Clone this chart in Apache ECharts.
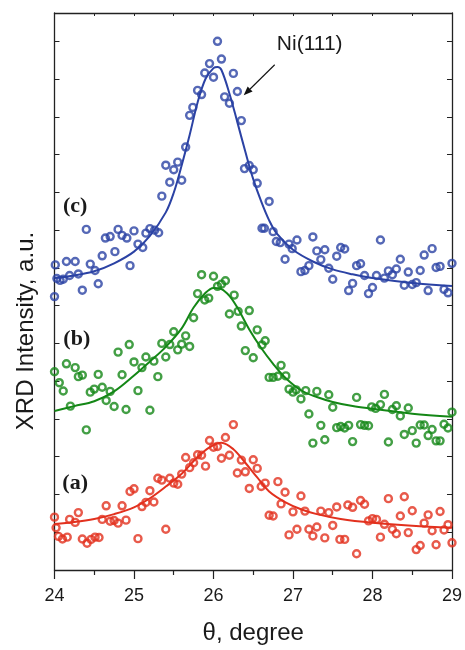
<!DOCTYPE html>
<html>
<head>
<meta charset="utf-8">
<script src="https://cdn.jsdelivr.net/npm/echarts@6/dist/echarts.min.js"></script>
<style>
html,body{margin:0;padding:0;background:#fff;}
#chart{width:465px;height:650px;}
</style>
</head>
<body>
<div id="chart"></div>
<script>
// ---- (c) blue data ----
const cTheta = [24.00,24.01,24.03,24.07,24.11,24.15,24.19,24.26,24.30,24.35,24.40,24.45,24.51,24.55,24.60,24.64,24.70,24.76,24.80,24.85,24.91,24.95,25.00,25.05,25.11,25.15,25.20,25.26,25.31,25.35,25.40,25.45,25.50,25.55,25.60,25.65,25.70,25.74,25.80,25.85,25.89,25.95,26.00,26.05,26.10,26.14,26.20,26.25,26.30,26.35,26.39,26.45,26.50,26.55,26.61,26.64,26.70,26.75,26.79,26.84,26.90,26.95,26.99,27.05,27.10,27.15,27.20,27.25,27.30,27.35,27.40,27.45,27.50,27.55,27.60,27.65,27.70,27.75,27.80,27.85,27.90,27.95,28.00,28.05,28.10,28.15,28.20,28.25,28.30,28.35,28.40,28.45,28.50,28.55,28.60,28.65,28.70,28.75,28.80,28.85,28.90,28.95,29.00];
const cInt = [7.24,8.08,7.72,7.67,7.70,8.17,7.80,8.17,7.84,7.41,9.02,8.10,7.93,7.58,8.32,8.79,8.83,8.43,9.02,8.86,8.79,8.06,8.98,8.63,8.54,8.92,9.04,9.00,8.93,9.90,10.72,10.27,10.60,10.80,10.32,11.20,12.04,12.25,12.70,12.59,13.16,13.41,13.05,14.00,13.53,12.53,12.36,13.15,12.67,11.90,10.63,10.71,10.60,10.24,9.05,9.05,9.76,8.96,8.70,8.67,8.23,8.63,8.51,8.74,7.90,7.93,8.06,8.82,8.45,8.22,8.48,7.99,7.70,8.31,8.54,8.50,7.40,7.59,8.06,8.11,7.80,7.32,7.48,7.80,8.74,7.73,7.92,7.82,7.97,8.23,7.54,7.89,7.56,7.61,7.93,8.34,7.40,8.51,8.01,8.04,7.43,7.34,8.12];
const cFitTheta = [24.0,24.25,24.5,24.75,25.0,25.2,25.4,25.5,25.6,25.7,25.8,25.9,26.0,26.05,26.1,26.2,26.3,26.4,26.5,26.6,26.7,26.8,27.0,27.25,27.5,27.75,28.0,28.5,29.0];
const cFitInt = [7.73,7.80,7.91,8.12,8.43,8.85,9.47,9.99,10.72,11.52,12.38,13.01,13.29,13.32,13.24,12.62,11.86,11.08,10.35,9.76,9.26,8.90,8.48,8.17,7.96,7.83,7.73,7.60,7.52];

// ---- (b) green data ----
const bTheta = [24.00,24.06,24.11,24.15,24.20,24.26,24.30,24.35,24.40,24.45,24.50,24.55,24.60,24.65,24.70,24.75,24.80,24.85,24.90,24.94,25.00,25.05,25.10,25.15,25.20,25.25,25.30,25.35,25.40,25.45,25.50,25.55,25.60,25.65,25.70,25.75,25.80,25.85,25.89,25.94,26.00,26.05,26.10,26.15,26.20,26.26,26.31,26.35,26.40,26.45,26.50,26.55,26.61,26.65,26.70,26.75,26.81,26.85,26.91,26.95,27.00,27.04,27.10,27.16,27.20,27.25,27.30,27.35,27.40,27.45,27.50,27.55,27.60,27.65,27.70,27.75,27.80,27.85,27.90,27.95,27.99,28.04,28.10,28.15,28.20,28.25,28.30,28.35,28.40,28.45,28.50,28.55,28.60,28.65,28.70,28.75,28.80,28.85,28.90,28.95,29.00];
const bInt = [5.25,4.96,4.74,5.46,4.34,5.36,5.12,5.16,3.71,4.71,4.79,5.18,4.84,4.49,4.73,4.33,5.77,5.17,4.25,5.97,5.51,4.75,5.36,5.64,4.23,5.53,5.12,6.00,5.64,5.97,6.31,5.83,5.98,6.20,5.92,6.68,7.32,7.82,7.15,7.20,7.78,7.51,7.57,7.66,6.78,7.28,6.85,6.46,5.81,6.87,5.62,6.36,5.96,6.07,5.10,5.10,5.13,5.42,5.14,4.79,4.71,4.77,4.53,4.75,4.13,3.36,4.73,3.83,3.45,4.64,4.31,3.77,3.80,3.76,3.83,3.40,4.57,3.85,3.83,3.82,4.32,4.28,4.38,4.65,3.39,4.25,4.35,4.08,3.59,4.29,3.69,3.36,3.84,3.84,3.56,3.72,3.42,3.42,3.86,3.76,4.18];
const bFitTheta = [24.0,24.25,24.5,24.75,25.0,25.2,25.4,25.6,25.75,25.9,26.0,26.1,26.2,26.3,26.45,26.6,26.75,26.9,27.1,27.3,27.5,27.75,28.0,28.5,29.0];
const bFitInt = [4.21,4.34,4.47,4.73,5.15,5.52,5.91,6.40,6.95,7.34,7.47,7.44,7.26,6.95,6.37,5.88,5.46,5.10,4.76,4.58,4.45,4.34,4.27,4.14,4.06];

// ---- (a) red data ----
const aTheta = [24.00,24.02,24.05,24.10,24.16,24.19,24.26,24.30,24.35,24.41,24.46,24.51,24.56,24.60,24.65,24.70,24.75,24.80,24.85,24.90,24.95,25.00,25.05,25.10,25.15,25.20,25.25,25.30,25.35,25.40,25.45,25.50,25.55,25.60,25.65,25.70,25.75,25.80,25.85,25.90,25.95,26.00,26.05,26.10,26.15,26.20,26.25,26.30,26.35,26.40,26.45,26.50,26.55,26.60,26.65,26.70,26.75,26.81,26.85,26.90,26.95,27.00,27.05,27.10,27.15,27.20,27.25,27.30,27.35,27.40,27.45,27.50,27.55,27.59,27.65,27.69,27.75,27.80,27.85,27.90,27.95,28.00,28.05,28.10,28.15,28.20,28.25,28.30,28.35,28.40,28.45,28.50,28.55,28.60,28.65,28.70,28.75,28.80,28.85,28.90,28.95,29.00];
const aInt = [1.40,1.12,0.89,0.82,0.87,1.34,1.26,1.52,0.82,0.71,0.81,0.87,0.86,1.34,1.70,1.29,1.31,1.24,1.70,1.32,2.08,2.15,0.83,1.68,1.79,2.10,1.80,2.43,2.38,1.08,2.43,2.30,2.27,2.54,2.98,2.71,2.84,3.05,3.04,2.75,3.43,3.25,3.27,2.96,3.51,3.04,3.85,2.57,2.91,2.60,2.16,2.92,2.69,2.21,2.30,1.45,1.43,2.34,1.75,2.06,0.93,1.54,1.08,1.96,1.56,1.08,0.90,1.14,1.56,0.85,1.52,1.18,1.67,0.81,0.81,1.72,1.66,0.43,1.84,1.74,1.30,1.36,1.34,0.87,1.21,1.89,1.08,0.96,1.43,1.94,0.99,1.57,0.54,0.65,1.24,1.46,1.04,0.67,1.55,1.06,1.20,0.72];
const aFitTheta = [24.0,24.25,24.5,24.75,25.0,25.2,25.4,25.6,25.8,25.95,26.1,26.25,26.4,26.55,26.7,26.9,27.1,27.3,27.6,28.0,28.5,29.0];
const aFitInt = [1.22,1.27,1.35,1.48,1.66,1.90,2.21,2.55,2.99,3.25,3.37,3.20,2.84,2.45,2.08,1.80,1.61,1.48,1.35,1.25,1.17,1.12];

// ---- axis / labels ----
const xTicks = [24, 25, 26, 27, 28, 29];
const curveLabels = [
  {text: '(c)', theta: 24.26, y: 9.63},
  {text: '(b)', theta: 24.28, y: 6.11},
  {text: '(a)', theta: 24.26, y: 2.30}
];
const peakLabel = {text: 'Ni(111)', theta: 27.21, y: 13.92};
const arrowFrom = [26.77, 13.38];
const arrowTo = [26.38, 12.57];

const colors = {c: '#2b42a4', b: '#148716', a: '#e2311e'};
const zip = (xs, ys) => xs.map((x, i) => [x, ys[i]]);
const sansFont = '"Liberation Sans", Arial, Helvetica, sans-serif';
const axisColor = '#222';

const chart = echarts.init(document.getElementById('chart'), null, {renderer: 'canvas'});

function scatter(name, xs, ys, color) {
  return {
    name, type: 'scatter', data: zip(xs, ys), symbol: 'circle', symbolSize: 7,
    itemStyle: {color: 'rgba(255,255,255,0)', borderColor: color, borderWidth: 2.4},
    silent: true, z: 3
  };
}
function fit(name, xs, ys, color) {
  return {
    name, type: 'line', data: zip(xs, ys), showSymbol: false, smooth: 0.35,
    lineStyle: {color, width: 2}, silent: true, z: 2
  };
}

const option = {
  animation: false,
  backgroundColor: '#fff',
  grid: {left: 54.5, top: 13, width: 400.5, height: 567, containLabel: false},
  xAxis: [
    {
      type: 'value', position: 'bottom', min: 24, max: 29, interval: 1,
      axisLine: {show: true, onZero: false, lineStyle: {color: axisColor, width: 1.3}},
      axisTick: {show: true, inside: false, length: 9, lineStyle: {color: axisColor, width: 1.2}},
      minorTick: {show: true, splitNumber: 2, length: 5, lineStyle: {color: axisColor, width: 1.2}},
      axisLabel: {show: true, margin: 17, fontSize: 18, fontFamily: sansFont, color: '#1a1a1a',
        formatter: v => (xTicks.indexOf(v) >= 0 ? String(v) : '')},
      splitLine: {show: false},
      name: 'θ, degree', nameLocation: 'middle', nameGap: 51,
      nameTextStyle: {fontSize: 24, fontFamily: sansFont, color: '#1a1a1a'}
    },
    {
      type: 'value', position: 'top', min: 24, max: 29, interval: 0.5,
      axisLine: {show: true, onZero: false, lineStyle: {color: axisColor, width: 1.3}},
      axisTick: {show: true, inside: true, length: 3, lineStyle: {color: axisColor, width: 1}},
      axisLabel: {show: false}, splitLine: {show: false}
    }
  ],
  yAxis: [
    {
      type: 'value', position: 'left', min: 0, max: 14.75, interval: 1,
      axisLine: {show: true, onZero: false, lineStyle: {color: axisColor, width: 1.3}},
      axisTick: {show: true, inside: true, length: 5, lineStyle: {color: axisColor, width: 1}},
      axisLabel: {show: false}, splitLine: {show: false}
    },
    {
      type: 'value', position: 'right', min: 0, max: 14.75, interval: 1,
      axisLine: {show: true, onZero: false, lineStyle: {color: axisColor, width: 1.3}},
      axisTick: {show: true, inside: true, length: 5, lineStyle: {color: axisColor, width: 1}},
      axisLabel: {show: false}, splitLine: {show: false}
    }
  ],
  series: [
    scatter('a', aTheta, aInt, colors.a),
    fit('a fit', aFitTheta, aFitInt, colors.a),
    scatter('b', bTheta, bInt, colors.b),
    fit('b fit', bFitTheta, bFitInt, colors.b),
    scatter('c', cTheta, cInt, colors.c),
    fit('c fit', cFitTheta, cFitInt, colors.c)
  ]
};
chart.setOption(option);

const graphics = [];
const textStyle = (text, font) => ({text, font, fill: '#1a1a1a',
  align: 'center', verticalAlign: 'middle', textAlign: 'center', textVerticalAlign: 'middle'});
curveLabels.forEach(l => {
  const p = chart.convertToPixel({gridIndex: 0}, [l.theta, l.y]);
  graphics.push({type: 'text', x: p[0], y: p[1], silent: true, z: 10,
    style: textStyle(l.text, 'bold 22px "Liberation Serif", "Times New Roman", serif')});
});
const pp = chart.convertToPixel({gridIndex: 0}, [peakLabel.theta, peakLabel.y]);
graphics.push({type: 'text', x: pp[0], y: pp[1], silent: true, z: 10,
  style: textStyle(peakLabel.text, '21px ' + sansFont)});

// arrow pointing at the peak flank
const a0 = chart.convertToPixel({gridIndex: 0}, arrowFrom);
const a1 = chart.convertToPixel({gridIndex: 0}, arrowTo);
const dx = a1[0] - a0[0], dy = a1[1] - a0[1];
const len = Math.sqrt(dx * dx + dy * dy);
const ux = dx / len, uy = dy / len;
const headL = 9, headW = 3.5;
const base = [a1[0] - ux * headL, a1[1] - uy * headL];
graphics.push({type: 'line', silent: true, z: 10,
  shape: {x1: a0[0], y1: a0[1], x2: base[0], y2: base[1]},
  style: {stroke: '#111', lineWidth: 1.1}});
graphics.push({type: 'polygon', silent: true, z: 10,
  shape: {points: [a1, [base[0] - uy * headW, base[1] + ux * headW], [base[0] + uy * headW, base[1] - ux * headW]]},
  style: {fill: '#111'}});

// y-axis title
graphics.push({type: 'text', x: 26, y: 331, rotation: Math.PI / 2, silent: true,
  style: textStyle('XRD Intensity, a.u.', '24px ' + sansFont)});
chart.setOption({graphic: graphics});
</script>
</body>
</html>
